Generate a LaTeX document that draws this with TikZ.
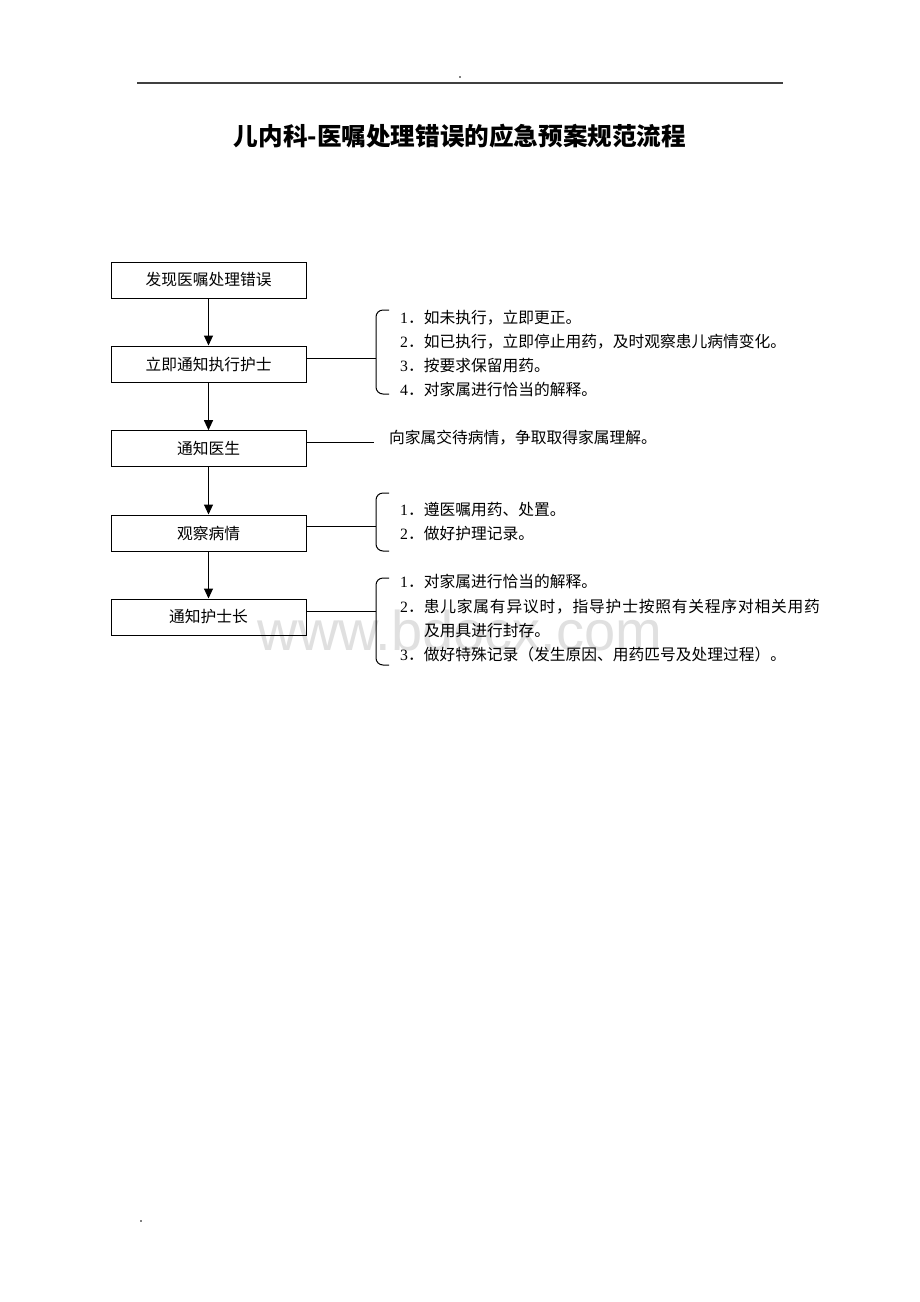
\documentclass[tikz,border=0pt]{standalone}
\usepackage{fontspec}
\usetikzlibrary{arrows.meta}
\setmainfont{Liberation Serif}
\newfontfamily\cjk{Noto Sans CJK SC}
\newfontfamily\wmfont{Liberation Sans}
\newfontfamily\serifdigits{Liberation Serif}
\newcommand\itemno[1]{{\serifdigits #1}．}
\begin{document}
\begin{tikzpicture}[x=1pt,y=-1pt,
  box/.style={draw, line width=1pt, minimum width=195pt, minimum height=36pt, inner sep=0pt, font=\cjk\fontsize{15.75}{18}\selectfont},
  conn/.style={line width=1pt},
  arr/.style={line width=1pt, -{Triangle[length=10pt,width=9pt]}},
  note/.style={anchor=base west, inner sep=0pt, font=\cjk\fontsize{15.75}{18}\selectfont},
  brace/.style={line width=1pt, rounded corners=7pt}]
\useasboundingbox (0,0) rectangle (920,1302);
\fill[white] (0,0) rectangle (920,1302);
% watermark
\node[font=\wmfont\fontsize{56}{60}\selectfont, text=black!12] (wm) at (460,630) {www.bdocx.com};
% header
\coordinate (hl) at (137,83);
\coordinate (hr) at (783,83);
\draw[line width=1.5pt, black!75] (hl) -- (hr);
\fill (460,77) circle (0.8);
\fill (141,1221) circle (0.8);
% title
\node[font=\cjk\bfseries\fontsize{24.6}{28}\selectfont] (title) at (460,136) {儿内科-医嘱处理错误的应急预案规范流程};
% boxes
\node[box] (b1) at (208.5,280) {发现医嘱处理错误};
\node[box] (b2) at (208.5,364) {立即通知执行护士};
\node[box] (b3) at (208.5,448.7) {通知医生};
\node[box] (b4) at (208.5,533) {观察病情};
\node[box] (b5) at (208.5,617) {通知护士长};
\draw[arr] (b1) -- (b2);
\draw[arr] (b2) -- (b3);
\draw[arr] (b3) -- (b4);
\draw[arr] (b4) -- (b5);
% side connectors
\coordinate (k2) at (376,358);
\coordinate (k3) at (374,442.3);
\coordinate (k4) at (376,526.7);
\coordinate (k5) at (376,611);
\draw[conn] (b2.east |- k2) -- (k2);
\draw[conn] (b3.east |- k3) -- (k3);
\draw[conn] (b4.east |- k4) -- (k4);
\draw[conn] (b5.east |- k5) -- (k5);
% brackets
\draw[brace] (389,310) -- (376,310) -- (376,394) -- (389,394);
\draw[brace] (389,493) -- (376,493) -- (376,551) -- (389,551);
\draw[brace] (389,578) -- (376,578) -- (376,665) -- (389,665);
% notes
\node[note] (n21) at (400,323) {\itemno{1}如未执行，立即更正。};
\node[note] (n22) at (400,347) {\itemno{2}如已执行，立即停止用药，及时观察患儿病情变化。};
\node[note] (n23) at (400,371) {\itemno{3}按要求保留用药。};
\node[note] (n24) at (400,395) {\itemno{4}对家属进行恰当的解释。};
\node[note] (n31) at (389,443) {向家属交待病情，争取取得家属理解。};
\node[note] (n41) at (400,515) {\itemno{1}遵医嘱用药、处置。};
\node[note] (n42) at (400,539) {\itemno{2}做好护理记录。};
\node[note] (n51) at (400,587) {\itemno{1}对家属进行恰当的解释。};
\node[note] (n52) at (400,612) {\itemno{2}\addfontfeature{LetterSpace=5}患儿家属有异议时，指导护士按照有关程序对相关用药};
\node[note] (n53) at (424,636) {及用具进行封存。};
\node[note] (n54) at (400,660) {\itemno{3}做好特殊记录（发生原因、用药匹号及处理过程）。};
\end{tikzpicture}
\end{document}
